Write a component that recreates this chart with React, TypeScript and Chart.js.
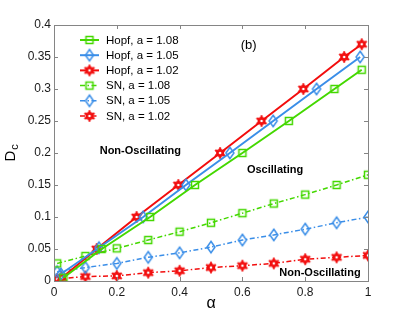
import React, { useEffect, useRef } from "react";
import { Chart, registerables } from "chart.js";

Chart.register(...registerables);

// Hopf bifurcation curves (alpha, Dc)
const hopf108Alpha = [0.03, 0.152, 0.306, 0.449, 0.6, 0.748, 0.893, 0.98];
const hopf108D = [0.005, 0.05, 0.1, 0.15, 0.2, 0.25, 0.3, 0.33];
const hopf105Alpha = [0.022, 0.143, 0.284, 0.42, 0.56, 0.698, 0.836, 0.975];
const hopf105D = [0.011, 0.052, 0.1, 0.15, 0.2, 0.25, 0.3, 0.35];
const hopf102Alpha = [0.025, 0.136, 0.263, 0.396, 0.529, 0.661, 0.794, 0.924, 0.98];
const hopf102D = [0.005, 0.05, 0.1, 0.15, 0.2, 0.25, 0.3, 0.35, 0.37];

// Saddle-node curves
const snAlpha = [0.01, 0.1, 0.2, 0.3, 0.4, 0.5, 0.6, 0.7, 0.8, 0.9, 1.0];
const sn108D = [0.0275, 0.039, 0.051, 0.064, 0.077, 0.091, 0.106, 0.121, 0.135, 0.15, 0.166];
const sn105D = [0.0145, 0.021, 0.0275, 0.037, 0.044, 0.053, 0.064, 0.072, 0.081, 0.091, 0.1];
const sn102D = [0.003, 0.007, 0.008, 0.013, 0.016, 0.021, 0.024, 0.0275, 0.034, 0.037, 0.04];

const seriesLabels = [
  "Hopf, a = 1.08",
  "Hopf, a = 1.05",
  "Hopf, a = 1.02",
  "SN, a = 1.08",
  "SN, a = 1.05",
  "SN, a = 1.02",
];

const xTicks = [0, 0.2, 0.4, 0.6, 0.8, 1];
const yTicks = [0, 0.05, 0.1, 0.15, 0.2, 0.25, 0.3, 0.35, 0.4];

const GREEN = "#44d800";
const BLUE = "#3a8ee8";
const RED = "#f20d0d";
const FONT = "'Liberation Sans', Arial, Helvetica, sans-serif";

function makeMarker(kind: string, color: string): HTMLCanvasElement {
  const c = document.createElement("canvas");
  const s = 16;
  c.width = s;
  c.height = s;
  const g = c.getContext("2d")!;
  g.strokeStyle = color;
  g.fillStyle = color;
  g.lineWidth = 1.5;
  const m = s / 2;
  g.beginPath();
  if (kind === "square") {
    g.rect(m - 3.5, m - 3.5, 7, 7);
    g.stroke();
  } else if (kind === "diamond") {
    g.moveTo(m, m - 5.8);
    g.lineTo(m + 4, m);
    g.lineTo(m, m + 5.8);
    g.lineTo(m - 4, m);
    g.closePath();
    g.stroke();
  } else {
    const ro = 5.8;
    const ri = 3.2;
    for (let i = 0; i < 12; i++) {
      const r = i % 2 === 0 ? ro : ri;
      const a = -Math.PI / 2 + (i * Math.PI) / 6;
      const x = m + r * Math.cos(a);
      const y = m + r * Math.sin(a);
      if (i === 0) g.moveTo(x, y);
      else g.lineTo(x, y);
    }
    g.closePath();
    g.lineWidth = 1;
    g.fill();
    g.stroke();
    g.beginPath();
    g.fillStyle = "#fff";
    g.arc(m, m, 1.3, 0, Math.PI * 2);
    g.fill();
  }
  return c;
}

function pts(xs: number[], ys: number[]) {
  return xs.map((x, i) => ({ x, y: ys[i] }));
}

export default function App() {
  const ref = useRef<HTMLCanvasElement>(null);

  useEffect(() => {
    const sq = makeMarker("square", GREEN);
    const di = makeMarker("diamond", BLUE);
    const st = makeMarker("star", RED);
    const DASH = [5, 2.5, 1.5, 2.5];

    const mk = (label: string, data: any, color: string, marker: HTMLCanvasElement, dashed: boolean) => ({
      label,
      data,
      borderColor: color,
      backgroundColor: color,
      borderWidth: dashed ? 1.5 : 2,
      borderDash: dashed ? DASH : [],
      pointStyle: marker,
      pointRadius: 5,
      showLine: true,
      fill: false,
      tension: 0,
    });

    const datasets = [
      mk(seriesLabels[0], pts(hopf108Alpha, hopf108D), GREEN, sq, false),
      mk(seriesLabels[1], pts(hopf105Alpha, hopf105D), BLUE, di, false),
      mk(seriesLabels[2], pts(hopf102Alpha, hopf102D), RED, st, false),
      mk(seriesLabels[3], pts(snAlpha, sn108D), GREEN, sq, true),
      mk(seriesLabels[4], pts(snAlpha, sn105D), BLUE, di, true),
      mk(seriesLabels[5], pts(snAlpha, sn102D), RED, st, true),
    ];

    const decor = {
      id: "decor",
      afterDraw(chart: any) {
        const ctx = chart.ctx;
        const a = chart.chartArea;
        const xs = chart.scales.x;
        const ys = chart.scales.y;
        ctx.save();
        // box
        ctx.strokeStyle = "#858585";
        ctx.lineWidth = 1;
        ctx.strokeRect(Math.round(a.left) + 0.5, Math.round(a.top) + 0.5, Math.round(a.right - a.left), Math.round(a.bottom - a.top));
        // inward ticks
        const tl = 4;
        ctx.beginPath();
        xTicks.forEach((v) => {
          const x = Math.round(xs.getPixelForValue(v)) + 0.5;
          ctx.moveTo(x, a.bottom);
          ctx.lineTo(x, a.bottom - tl);
          ctx.moveTo(x, a.top);
          ctx.lineTo(x, a.top + tl);
        });
        yTicks.forEach((v) => {
          const y = Math.round(ys.getPixelForValue(v)) + 0.5;
          ctx.moveTo(a.left, y);
          ctx.lineTo(a.left + tl, y);
          ctx.moveTo(a.right, y);
          ctx.lineTo(a.right - tl, y);
        });
        ctx.stroke();

        // annotations
        ctx.fillStyle = "#000";
        ctx.textAlign = "center";
        ctx.textBaseline = "middle";
        ctx.font = `bold 11px ${FONT}`;
        ctx.fillText("Non-Oscillating", xs.getPixelForValue(0.275), ys.getPixelForValue(0.203));
        ctx.fillText("Oscillating", xs.getPixelForValue(0.704), ys.getPixelForValue(0.173));
        ctx.fillText("Non-Oscillating", xs.getPixelForValue(0.847), ys.getPixelForValue(0.0125));
        ctx.font = `13px ${FONT}`;
        ctx.fillText("(b)", xs.getPixelForValue(0.62), ys.getPixelForValue(0.368));

        // legend
        ctx.font = `11.5px ${FONT}`;
        ctx.textAlign = "left";
        chart.data.datasets.forEach((ds: any, i: number) => {
          const y = 40 + i * 15.2;
          ctx.strokeStyle = ds.borderColor;
          ctx.lineWidth = ds.borderWidth;
          ctx.setLineDash(ds.borderDash);
          ctx.beginPath();
          ctx.moveTo(80, y);
          ctx.lineTo(99, y);
          ctx.stroke();
          ctx.setLineDash([]);
          const img = ds.pointStyle as HTMLCanvasElement;
          ctx.drawImage(img, 89.5 - img.width / 2, y - img.height / 2);
          ctx.fillStyle = "#000";
          ctx.fillText(ds.label, 106, y + 0.5);
        });

        // axis titles
        ctx.font = `16px ${FONT}`;
        ctx.textAlign = "center";
        ctx.textBaseline = "alphabetic";
        ctx.fillText("\u03b1", (a.left + a.right) / 2, 308);
        ctx.save();
        ctx.translate(15, 156);
        ctx.rotate(-Math.PI / 2);
        ctx.font = `15px ${FONT}`;
        ctx.fillText("D", 0, 0);
        ctx.font = `11px ${FONT}`;
        ctx.fillText("c", 9, 3);
        ctx.restore();
        ctx.restore();
      },
    };

    const chart = new Chart(ref.current!, {
      type: "scatter",
      data: { datasets },
      options: {
        responsive: false,
        animation: false,
        layout: { padding: { left: 0, right: 39, top: 25, bottom: 0 } },
        plugins: { legend: { display: false }, tooltip: { enabled: false } },
        scales: {
          x: {
            type: "linear",
            min: 0,
            max: 1,
            afterBuildTicks: (s: any) => {
              s.ticks = xTicks.map((v) => ({ value: v }));
            },
            afterFit: (s: any) => {
              s.height = 36;
            },
            grid: { display: false, drawTicks: false },
            border: { display: false },
            ticks: {
              padding: 4,
              color: "#1a1a1a",
              font: { size: 12, family: FONT },
              callback: (v: any) => String(v),
              maxRotation: 0,
            },
          },
          y: {
            type: "linear",
            min: 0,
            max: 0.4,
            afterBuildTicks: (s: any) => {
              s.ticks = yTicks.map((v) => ({ value: v }));
            },
            afterFit: (s: any) => {
              s.width = 54;
            },
            grid: { display: false, drawTicks: false },
            border: { display: false },
            ticks: {
              padding: 3,
              color: "#1a1a1a",
              font: { size: 12, family: FONT },
              callback: (v: any) => String(Math.round(v * 100) / 100),
            },
          },
        },
      },
      plugins: [decor],
    });
    return () => chart.destroy();
  }, []);

  return (
    <div style={{ position: "fixed", left: 0, top: 0, width: 407, height: 317, background: "#fff" }}>
      <canvas ref={ref} width={407} height={317} />
    </div>
  );
}
